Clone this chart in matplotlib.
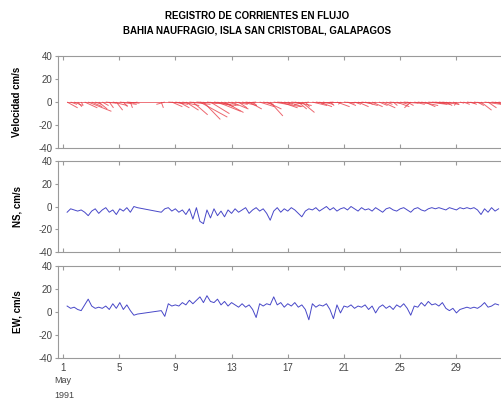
import numpy as np
import matplotlib
matplotlib.use('Agg')
import matplotlib.pyplot as plt
from matplotlib.collections import LineCollection

plt.rcParams['axes.unicode_minus'] = False
plt.rcParams['font.family'] = ['Liberation Sans', 'DejaVu Sans']

# Registro de corrientes (dias de mayo 1991), muestreo cada 0.25 dia
# tramo 1: dia 1.3 a 6.3 ; tramo 2: dia 8.0 a 32.0
t_ini_a, t_ini_b, paso = 1.3, 8.0, 0.25

ns_a = [-5, -2, -3, -4, -3, -5, -8, -4, -2, -6, -3, -1, -5, -3, -7, -2, -4, -1, -5, 0, -1]
ew_a = [5, 3, 4, 2, 1, 6, 11, 5, 3, 4, 3, 5, 2, 7, 3, 8, 2, 6, 1, -3, -2]

ns_b = [-5, -2, -1, -4, -2, -5, -3, -7, -2, -11, -1, -13, -15, -3, -10, -2,
        -8, -4, -9, -3, -6, -2, -5, -3, -1, -6, -3, -1, -4, -2, -6, -12,
        -4, -1, -5, -2, -4, -1, -3, -6, -9, -4, -2, -3, -1, -4, -2, 0,
        -3, -1, -4, -2, -1, -3, 0, -2, -4, -1, -3, -2, -4, -1, -3, -5,
        -2, -1, -3, -4, -2, -1, -3, -5, -2, -1, -3, -4, -2, -1, -2, -1,
        -2, -3, -1, -2, -3, -1, -2, -1, -2, -1, -3, -7, -2, -5, -1, -4, -2]
ew_b = [1, -4, 7, 5, 6, 5, 8, 6, 10, 7, 10, 13, 8, 14, 9, 8,
        11, 6, 9, 5, 8, 6, 4, 7, 4, 6, 2, -5, 7, 5, 7, 6,
        13, 6, 8, 4, 7, 5, 8, 4, 6, 2, -7, 7, 4, 6, 5, 7,
        2, -6, 6, -1, 5, 4, 6, 3, 5, 4, 6, 2, 5, -1, 4, 6,
        3, 5, 2, 6, 4, 7, 3, -3, 5, 4, 8, 5, 9, 6, 7, 5,
        8, 3, 1, 3, -1, 2, 3, 4, 3, 4, 3, 5, 8, 4, 5, 7, 6]

x_ticks = [1, 5, 9, 13, 17, 21, 25, 29]
y_ticks = [-40, -20, 0, 20, 40]

dias = np.concatenate([t_ini_a + paso * np.arange(len(ns_a)),
                       t_ini_b + paso * np.arange(len(ns_b))])
ns = np.array(ns_a + ns_b, dtype=float)
ew = np.array(ew_a + ew_b, dtype=float)

fig = plt.figure(figsize=(5.02, 4.01), dpi=100)
pos = [(0.1155, 0.630, 0.8875, 0.231),
       (0.1155, 0.371, 0.8875, 0.228),
       (0.1155, 0.108, 0.8875, 0.229)]
axs = [fig.add_axes(p) for p in pos]

gris = '#9a9a9a'
for ax in axs:
    ax.set_xlim(0.65, 32.35)
    ax.set_ylim(-40, 40)
    ax.set_xticks(x_ticks)
    ax.set_yticks(y_ticks)
    for s in ax.spines.values():
        s.set_color(gris)
        s.set_linewidth(0.8)
    ax.tick_params(axis='x', direction='in', top=True, length=3, color=gris,
                   labelsize=7, labelcolor='#444444')
    ax.tick_params(axis='y', direction='out', length=2.5, color=gris,
                   labelsize=7, labelcolor='#444444', pad=1.5)
for ax in axs[:2]:
    ax.tick_params(axis='x', labelbottom=False)

# stick plot de velocidad
esc = 0.15
segs = [[(t, 0), (t + u * esc, v)] for t, u, v in zip(dias, ew, ns)]
axs[0].add_collection(LineCollection(segs, colors='#e8404a', linewidths=0.7, alpha=0.8))
axs[0].plot([dias[0], dias[-1]], [0, 0], color='#e8404a', lw=0.6, alpha=0.85)

axs[1].plot(dias, ns, color='#4848c8', lw=0.7)
axs[2].plot(dias, ew, color='#4848c8', lw=0.7)

etiquetas = ['Velocidad cm/s', 'NS, cm/s', 'EW, cm/s']
for ax, lab in zip(axs, etiquetas):
    ax.set_ylabel(lab, fontsize=7, fontweight='bold')
    ax.yaxis.set_label_coords(-0.08, 0.5)

tr = axs[2].get_xaxis_transform()
axs[2].text(1, -0.2, 'May', transform=tr, ha='center', va='top', fontsize=6.5, color='#444444')
axs[2].text(1.1, -0.36, '1991', transform=tr, ha='center', va='top', fontsize=6.5, color='#444444')

fig.text(0.512, 0.96, 'REGISTRO DE CORRIENTES EN FLUJO', ha='center', va='center',
         fontsize=7, fontweight='bold')
fig.text(0.512, 0.925, 'BAHIA NAUFRAGIO, ISLA SAN CRISTOBAL, GALAPAGOS', ha='center',
         va='center', fontsize=7, fontweight='bold')

fig.savefig('out.png', dpi=100)
